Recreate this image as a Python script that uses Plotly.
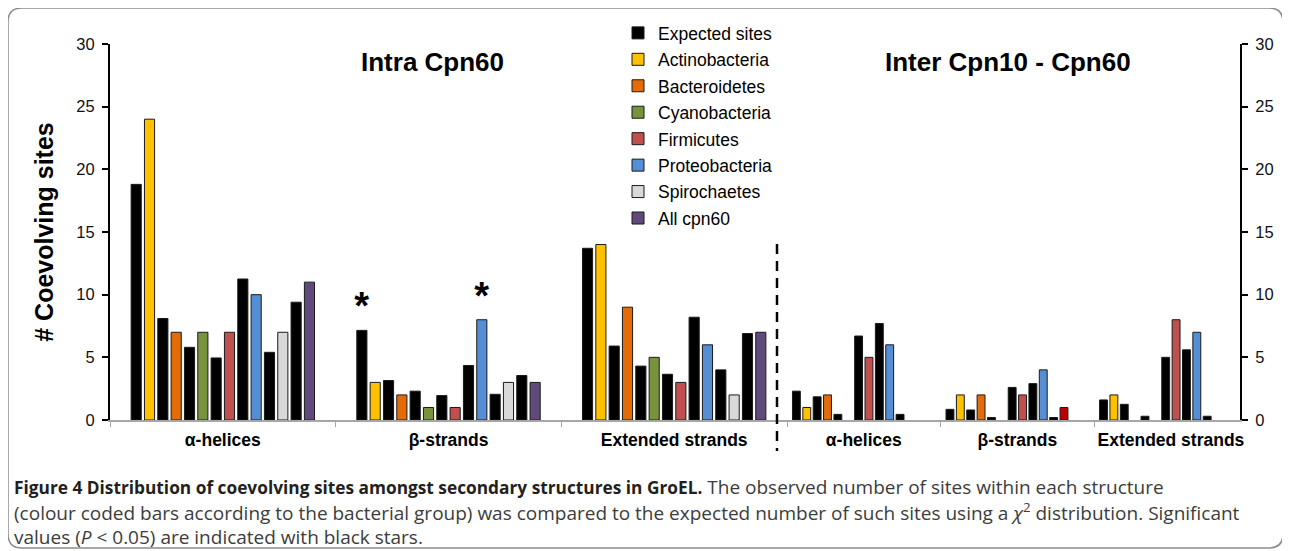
import plotly.graph_objects as go

# ---------------- data ----------------
categories = ["α-helices", "β-strands", "Extended strands"]
groups = ["Actinobacteria", "Bacteroidetes", "Cyanobacteria", "Firmicutes",
          "Proteobacteria", "Spirochaetes", "All cpn60"]

# Intra Cpn60 (expected / observed per bacterial group, per structure)
intra_expected_actinobacteria = [18.8, 7.15, 13.7]
intra_observed_actinobacteria = [24, 3, 14]
intra_expected_bacteroidetes = [8.1, 3.15, 5.9]
intra_observed_bacteroidetes = [7, 2, 9]
intra_expected_cyanobacteria = [5.8, 2.3, 4.3]
intra_observed_cyanobacteria = [7, 1, 5]
intra_expected_firmicutes = [4.95, 1.95, 3.65]
intra_observed_firmicutes = [7, 1, 3]
intra_expected_proteobacteria = [11.25, 4.35, 8.2]
intra_observed_proteobacteria = [10, 8, 6]
intra_expected_spirochaetes = [5.4, 2.05, 4.0]
intra_observed_spirochaetes = [7, 3, 2]
intra_expected_all = [9.4, 3.55, 6.9]
intra_observed_all = [11, 3, 7]
intra_significant_actinobacteria = [False, True, False]
intra_significant_proteobacteria = [False, True, False]

# Inter Cpn10 - Cpn60
inter_expected_actinobacteria = [2.3, 0.85, 1.6]
inter_observed_actinobacteria = [1, 2, 2]
inter_expected_bacteroidetes = [1.85, 0.8, 1.25]
inter_observed_bacteroidetes = [2, 2, None]
inter_expected_cyanobacteria = [0.45, 0.2, 0.3]
inter_observed_cyanobacteria = [None, None, None]
inter_expected_firmicutes = [6.7, 2.6, 5.0]
inter_observed_firmicutes = [5, 2, 8]
inter_expected_proteobacteria = [7.7, 2.9, 5.6]
inter_observed_proteobacteria = [6, 4, 7]
inter_expected_spirochaetes = [0.45, 0.2, 0.3]
inter_observed_spirochaetes = [None, 1, None]
inter_expected_all = [None, None, None]
inter_observed_all = [None, None, None]
inter_spirochaetes_bar_colors = ["#D9D9D9", "#C00000", "#D9D9D9"]

# ---------------- styles ----------------
colors = {
    "Actinobacteria": "#FFC000",
    "Bacteroidetes": "#E36C09",
    "Cyanobacteria": "#77933C",
    "Firmicutes": "#C0504D",
    "Proteobacteria": "#558ED5",
    "Spirochaetes": "#D9D9D9",
    "All cpn60": "#604A7B",
}
EXP_COLOR = "#000000"
OUTLINE = "#1a1a1a"
FONT = "Liberation Sans, Arial, sans-serif"
CAP_FONT = "Open Sans, sans-serif"

intra_exp = dict(zip(groups, [intra_expected_actinobacteria, intra_expected_bacteroidetes,
                              intra_expected_cyanobacteria, intra_expected_firmicutes,
                              intra_expected_proteobacteria, intra_expected_spirochaetes,
                              intra_expected_all]))
intra_obs = dict(zip(groups, [intra_observed_actinobacteria, intra_observed_bacteroidetes,
                              intra_observed_cyanobacteria, intra_observed_firmicutes,
                              intra_observed_proteobacteria, intra_observed_spirochaetes,
                              intra_observed_all]))
intra_sig = {"Actinobacteria": intra_significant_actinobacteria,
             "Proteobacteria": intra_significant_proteobacteria}
inter_exp = dict(zip(groups, [inter_expected_actinobacteria, inter_expected_bacteroidetes,
                              inter_expected_cyanobacteria, inter_expected_firmicutes,
                              inter_expected_proteobacteria, inter_expected_spirochaetes,
                              inter_expected_all]))
inter_obs = dict(zip(groups, [inter_observed_actinobacteria, inter_observed_bacteroidetes,
                              inter_observed_cyanobacteria, inter_observed_firmicutes,
                              inter_observed_proteobacteria, inter_observed_spirochaetes,
                              inter_observed_all]))

# ---------------- geometry ----------------
# target positions are given in window pixels; the page body adds an 8px margin
W, H = 1290, 551
OFF = 8
L, R, T, B = 110 - OFF, 1240 - OFF, 44 - OFF, 420 - OFF
SPLIT = 787


def px2x(px):
    return (px - OFF - L) / (R - L)


def py2y(py):
    return (B - (py - OFF)) / (B - T)


fig = go.Figure()


def star_texts(exp_vals, obs_vals, sig, which):
    out = []
    for e, o, s in zip(exp_vals, obs_vals, sig):
        if not s:
            out.append("")
            continue
        tallest = "exp" if (e or 0) >= (o or 0) else "obs"
        out.append("*" if tallest == which else "")
    return out


def pad_trace(xa, ya):
    fig.add_trace(go.Bar(x=categories, y=[None] * 3, xaxis=xa, yaxis=ya,
                         showlegend=False, hoverinfo="skip",
                         marker=dict(color="rgba(0,0,0,0)", line=dict(width=0))))


STAR_FONT = dict(size=38, color="#000000", family=FONT, weight="bold")

# left subplot: Intra Cpn60 (empty slot at both ends of each group)
pad_trace("x", "y")
for i, g in enumerate(groups):
    sig = intra_sig.get(g, [False] * 3)
    fig.add_trace(go.Bar(
        x=categories, y=intra_exp[g], xaxis="x", yaxis="y",
        name="Expected sites", legendgroup="expected", showlegend=(i == 0),
        marker=dict(color=EXP_COLOR, line=dict(color=OUTLINE, width=1)),
        text=star_texts(intra_exp[g], intra_obs[g], sig, "exp"),
        textposition="outside", constraintext="none", cliponaxis=False,
        textfont=STAR_FONT,
    ))
    fig.add_trace(go.Bar(
        x=categories, y=intra_obs[g], xaxis="x", yaxis="y",
        name=g, legendgroup=g, showlegend=True,
        marker=dict(color=colors[g], line=dict(color=OUTLINE, width=1)),
        text=star_texts(intra_exp[g], intra_obs[g], sig, "obs"),
        textposition="outside", constraintext="none", cliponaxis=False,
        textfont=STAR_FONT,
    ))
pad_trace("x", "y")

# right subplot: Inter Cpn10 - Cpn60
for g in groups:
    fig.add_trace(go.Bar(
        x=categories, y=inter_exp[g], xaxis="x2", yaxis="y2",
        name="Expected sites", legendgroup="expected", showlegend=False,
        marker=dict(color=EXP_COLOR, line=dict(color=OUTLINE, width=1)),
    ))
    obs_color = inter_spirochaetes_bar_colors if g == "Spirochaetes" else colors[g]
    fig.add_trace(go.Bar(
        x=categories, y=inter_obs[g], xaxis="x2", yaxis="y2",
        name=g, legendgroup=g, showlegend=False,
        marker=dict(color=obs_color, line=dict(color=OUTLINE, width=1)),
    ))

xaxis_common = dict(
    type="category", showline=True, linecolor="#a6a6a6", linewidth=1.5,
    ticks="outside", tickson="boundaries", ticklen=5, tickcolor="#a6a6a6",
    tickwidth=1.2, showgrid=False, zeroline=False, ticklabelstandoff=3,
    tickfont=dict(family=FONT, size=17.5, color="#000000", weight="bold"),
)
yaxis_common = dict(
    range=[0, 30], dtick=5, showline=True, linecolor="#000000", linewidth=2,
    ticks="outside", ticklen=6, tickwidth=2, tickcolor="#000000",
    showgrid=False, zeroline=False, ticklabelstandoff=4,
    tickfont=dict(family=FONT, size=16.5, color="#111111"),
)

fig.update_layout(
    width=W, height=H,
    margin=dict(l=L, r=W - R, t=T, b=H - B, autoexpand=False),
    paper_bgcolor="white", plot_bgcolor="white",
    barmode="group", bargap=0.055, bargroupgap=0.24,
    font=dict(family=FONT, size=16, color="#000000"),
    xaxis=dict(domain=[0, px2x(SPLIT)], range=[-0.5, 2.5], anchor="y", **xaxis_common),
    xaxis2=dict(domain=[px2x(SPLIT), 1], range=[-0.5, 2.45], anchor="y2", **xaxis_common),
    yaxis=dict(anchor="x", side="left",
               title=dict(text="# Coevolving sites", standoff=16,
                          font=dict(family=FONT, size=25, color="#000000", weight="bold")),
               **yaxis_common),
    yaxis2=dict(anchor="x2", side="right", **yaxis_common),
    legend=dict(x=px2x(618), y=py2y(15), xanchor="left", yanchor="top",
                bgcolor="rgba(0,0,0,0)", tracegroupgap=0.7, itemwidth=30,
                font=dict(family=FONT, size=17.5, color="#000000")),
    showlegend=True,
)

annotations = [
    dict(text="<b>Intra Cpn60</b>", x=px2x(432), y=py2y(62), xref="paper", yref="paper",
         showarrow=False, xanchor="center", yanchor="middle",
         font=dict(family=FONT, size=26, color="#000000")),
    dict(text="<b>Inter Cpn10 - Cpn60</b>", x=px2x(1008), y=py2y(62), xref="paper", yref="paper",
         showarrow=False, xanchor="center", yanchor="middle",
         font=dict(family=FONT, size=26, color="#000000")),
]
caption_lines = [
    "<b><span style='font-size:17.3px;color:#231f20'>Figure 4 Distribution of coevolving sites amongst secondary structures in GroEL.</span></b> The observed number of sites within each structure",
    "(colour coded bars according to the bacterial group) was compared to the expected number of such sites using a <i>χ</i><sup>2</sup> distribution. Significant",
    "values (<i>P</i> &lt; 0.05) are indicated with black stars.",
]
for line, py in zip(caption_lines, [487, 512, 537]):
    annotations.append(dict(text=line, x=px2x(12), y=py2y(py), xref="paper", yref="paper",
                            showarrow=False, xanchor="left", yanchor="middle", align="left",
                            font=dict(family=CAP_FONT, size=19, color="#3c3c3c")))
fig.update_layout(annotations=annotations)

# dashed separator and rounded frame (window pixel targets)
x0, y0, x1, y1, r = 8, 8, 1283, 548, 14
pts = [
    ("M", (x0 + r, y0)), ("L", (x1 - r, y0)), ("Q", (x1, y0, x1, y0 + r)),
    ("L", (x1, y1 - r)), ("Q", (x1, y1, x1 - r, y1)), ("L", (x0 + r, y1)),
    ("Q", (x0, y1, x0, y1 - r)), ("L", (x0, y0 + r)), ("Q", (x0, y0, x0 + r, y0)),
]
path = ""
for cmd, c in pts:
    if cmd == "Q":
        path += f"Q{px2x(c[0]):.5f},{py2y(c[1]):.5f} {px2x(c[2]):.5f},{py2y(c[3]):.5f} "
    else:
        path += f"{cmd}{px2x(c[0]):.5f},{py2y(c[1]):.5f} "
path += "Z"

fig.update_layout(shapes=[
    dict(type="line", xref="paper", yref="paper", x0=px2x(777), x1=px2x(777),
         y0=py2y(244), y1=py2y(451), line=dict(color="#000000", width=2.5, dash="10px,7px")),
    dict(type="path", xref="paper", yref="paper", path=path,
         line=dict(color="#8c8c8c", width=1.5), fillcolor="rgba(0,0,0,0)"),
])

fig.write_html("out.html")
